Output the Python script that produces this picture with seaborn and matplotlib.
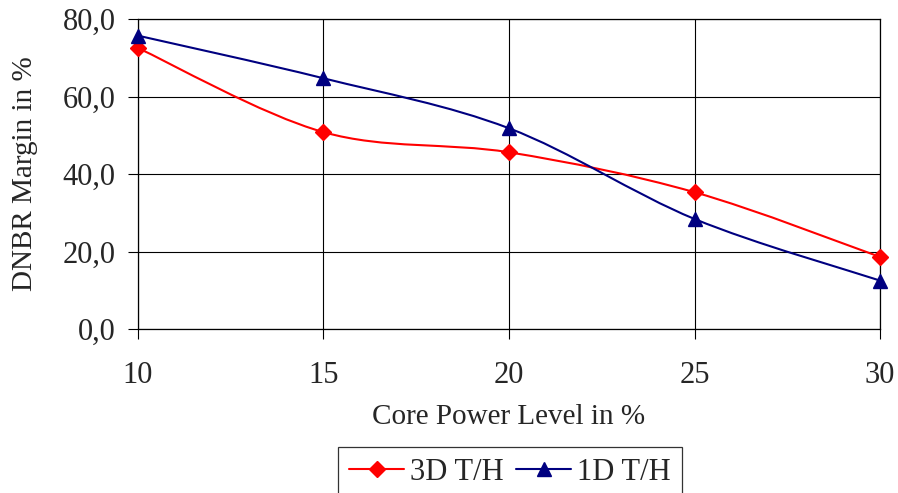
"""DNBR margin vs core power level, 3D vs 1D T/H (Excel-style smoothed lines)."""

import numpy as np
import matplotlib

matplotlib.use("Agg")
import matplotlib.pyplot as plt  # noqa: E402
import pandas as pd  # noqa: E402
import seaborn as sns  # noqa: E402
from matplotlib.lines import Line2D  # noqa: E402
from matplotlib.patches import PathPatch  # noqa: E402
from matplotlib.path import Path  # noqa: E402

power = [10, 15, 20, 25, 30]
margin_3d = [72.5, 50.8, 45.6, 35.3, 18.6]
margin_1d = [75.7, 64.7, 51.8, 28.4, 12.5]
series_names = ["3D T/H", "1D T/H"]
x_ticks = [10, 15, 20, 25, 30]
y_ticks = [0, 20, 40, 60, 80]
y_tick_labels = ["0,0", "20,0", "40,0", "60,0", "80,0"]

colors = {"3D T/H": "#FF0000", "1D T/H": "#000080"}
markers = {"3D T/H": "D", "1D T/H": "^"}
marker_sizes = {"3D T/H": 8, "1D T/H": 10}


def smooth_path(x, y):
    # cubic bezier through the points, catmull-rom style control points
    pts = np.column_stack([x, y]).astype(float)
    n = len(pts)
    verts = [pts[0]]
    codes = [Path.MOVETO]
    for i in range(n - 1):
        p_prev = pts[max(i - 1, 0)]
        p0, p1 = pts[i], pts[i + 1]
        p_next = pts[min(i + 2, n - 1)]
        verts += [p0 + (p1 - p_prev) / 6, p1 - (p_next - p0) / 6, p1]
        codes += [Path.CURVE4] * 3
    return Path(verts, codes)


df = pd.DataFrame(
    {
        "power": power * 2,
        "margin": margin_3d + margin_1d,
        "series": [series_names[0]] * len(power) + [series_names[1]] * len(power),
    }
)

sns.set_style("white")
plt.rcParams["font.family"] = ["Liberation Serif", "DejaVu Serif"]

fig = plt.figure(figsize=(8.98, 4.93), dpi=100)
ax = fig.add_axes([138 / 898, 1 - 329 / 493, 742 / 898, 310 / 493])

for name, vals in zip(series_names, [margin_3d, margin_1d]):
    ax.add_patch(
        PathPatch(
            smooth_path(power, vals),
            facecolor="none",
            edgecolor=colors[name],
            lw=1.5,
            zorder=3,
        )
    )
    sub = df[df["series"] == name]
    ax.plot(
        sub["power"],
        sub["margin"],
        linestyle="none",
        marker=markers[name],
        markersize=marker_sizes[name],
        color=colors[name],
        clip_on=False,
        zorder=4,
    )

ax.set_xlim(10, 30)
ax.set_ylim(0, 80)
ax.set_xticks(x_ticks)
ax.set_yticks(y_ticks)
ax.set_yticklabels(y_tick_labels)
ax.grid(True, color="black", lw=0.8)
ax.set_axisbelow(True)
for side in ax.spines.values():
    side.set_color("black")
    side.set_linewidth(0.9)
ax.tick_params(
    axis="both", direction="out", length=7, width=0.8, color="black",
    labelsize=22, left=True, bottom=True,
)
ax.tick_params(axis="x", pad=16)
ax.tick_params(axis="y", pad=9)

ax.set_xlabel("Core Power Level in %", fontsize=21, va="top")
ax.xaxis.set_label_coords(0.5, -0.243)
ax.set_ylabel("DNBR Margin in %", fontsize=21)
ax.yaxis.set_label_coords(-0.135, 0.5)

handles = [
    Line2D([], [], color=colors[n], marker=markers[n], markersize=marker_sizes[n], lw=1.5)
    for n in series_names
]
leg = fig.legend(
    handles,
    series_names,
    loc="upper center",
    bbox_to_anchor=(510 / 898, 1 - 447 / 493),
    ncol=2,
    fontsize=22,
    frameon=True,
    fancybox=False,
    handlelength=1.8,
    handletextpad=0.2,
    columnspacing=0.4,
    borderpad=0.35,
    borderaxespad=0,
)
leg.get_frame().set_edgecolor("black")
leg.get_frame().set_linewidth(0.9)

fig.savefig("out.png", dpi=100)
plt.close(fig)
